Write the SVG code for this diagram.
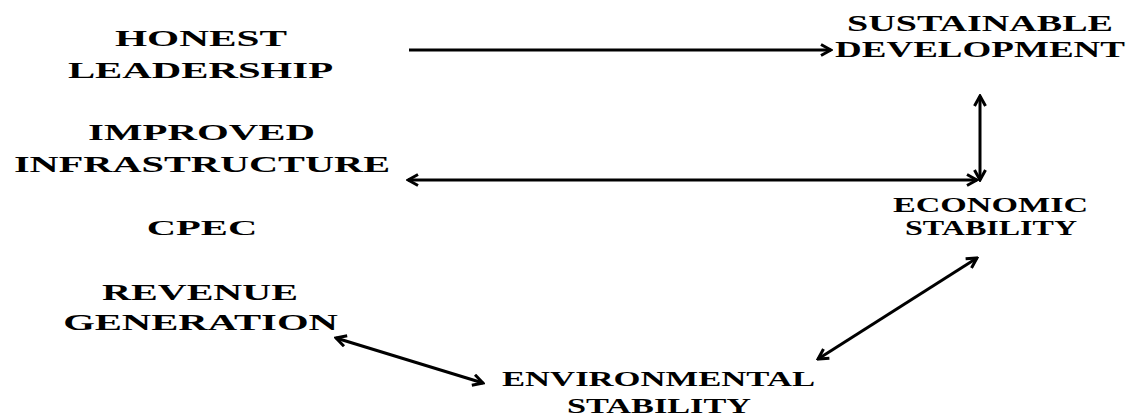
<svg xmlns="http://www.w3.org/2000/svg" width="1133" height="417" viewBox="0 0 1133 417">
<style>
  .lbl { font-family: "Liberation Serif", "Times New Roman", serif; font-weight: bold; fill: #000; text-anchor: middle; }
  .conn { stroke: #000; stroke-width: 3; fill: none; }
</style>
<defs>
  <marker id="ah" viewBox="0 0 14 14" refX="12" refY="7" markerWidth="14" markerHeight="14" markerUnits="userSpaceOnUse" orient="auto-start-reverse">
    <path d="M2,1.5 L12,7 L2,12.5" fill="none" stroke="#000" stroke-width="3"/>
  </marker>
</defs>
<rect width="1133" height="417" fill="#fff"/>
<g id="honest-leadership">
  <text class="lbl" font-size="24" transform="translate(201,46) scale(1.72,1)" textLength="100" lengthAdjust="spacingAndGlyphs">HONEST</text>
  <text class="lbl" font-size="24" transform="translate(200.5,78) scale(1.70,1)" textLength="156" lengthAdjust="spacingAndGlyphs">LEADERSHIP</text>
</g>
<g id="improved-infrastructure">
  <text class="lbl" font-size="23" transform="translate(201.5,140) scale(1.78,1)" textLength="127.5" lengthAdjust="spacingAndGlyphs">IMPROVED</text>
  <text class="lbl" font-size="23" transform="translate(202,172) scale(1.71,1)" textLength="220" lengthAdjust="spacingAndGlyphs">INFRASTRUCTURE</text>
</g>
<g id="cpec">
  <text class="lbl" font-size="22" transform="translate(202,235) scale(1.84,1)" textLength="60" lengthAdjust="spacingAndGlyphs">CPEC</text>
</g>
<g id="revenue-generation">
  <text class="lbl" font-size="23" transform="translate(200,300) scale(1.74,1)" textLength="112.6" lengthAdjust="spacingAndGlyphs">REVENUE</text>
  <text class="lbl" font-size="23" transform="translate(200.5,330) scale(1.75,1)" textLength="157" lengthAdjust="spacingAndGlyphs">GENERATION</text>
</g>
<g id="sustainable-development">
  <text class="lbl" font-size="24" transform="translate(980,31) scale(1.57,1)" textLength="169.4" lengthAdjust="spacingAndGlyphs">SUSTAINABLE</text>
  <text class="lbl" font-size="23" transform="translate(980,57) scale(1.55,1)" textLength="187.1" lengthAdjust="spacingAndGlyphs">DEVELOPMENT</text>
</g>
<g id="economic-stability">
  <text class="lbl" font-size="22" transform="translate(990.5,212) scale(1.55,1)" textLength="125.8" lengthAdjust="spacingAndGlyphs">ECONOMIC</text>
  <text class="lbl" font-size="20" transform="translate(991,235) scale(1.58,1)" textLength="108.9" lengthAdjust="spacingAndGlyphs">STABILITY</text>
</g>
<g id="environmental-stability">
  <text class="lbl" font-size="20" transform="translate(658.5,386) scale(1.65,1)" textLength="189.7" lengthAdjust="spacingAndGlyphs">ENVIRONMENTAL</text>
  <text class="lbl" font-size="20" transform="translate(659,413) scale(1.69,1)" textLength="108.9" lengthAdjust="spacingAndGlyphs">STABILITY</text>
</g>
<g id="connectors">
  <line class="conn" x1="409" y1="50" x2="831" y2="50" marker-end="url(#ah)"/>
  <line class="conn" x1="980" y1="96" x2="980" y2="180" marker-start="url(#ah)" marker-end="url(#ah)"/>
  <line class="conn" x1="408" y1="180" x2="977" y2="180" marker-start="url(#ah)" marker-end="url(#ah)"/>
  <line class="conn" x1="336" y1="338" x2="483" y2="383" marker-start="url(#ah)" marker-end="url(#ah)"/>
  <line class="conn" x1="818" y1="359" x2="977" y2="258" marker-start="url(#ah)" marker-end="url(#ah)"/>
</g>
</svg>
